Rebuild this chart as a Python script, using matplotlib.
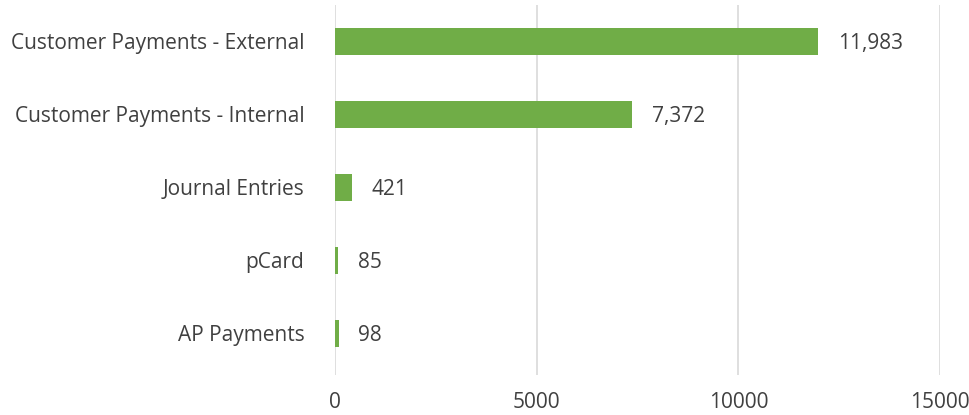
import matplotlib
matplotlib.use("Agg")
import matplotlib.pyplot as plt

plt.rcParams['font.family'] = ['Open Sans', 'DejaVu Sans']

# Données
categories = ["Customer Payments - External", "Customer Payments - Internal",
              "Journal Entries", "pCard", "AP Payments"]
values = [11983, 7372, 421, 85, 98]
xticks = [0, 5000, 10000, 15000]

green = "#70AD47"
text_col = "#404040"

fig = plt.figure(figsize=(9.7, 4.15), dpi=100)
ax = fig.add_axes([335 / 970, 40 / 415, 605 / 970, 370 / 415])

pos = list(range(len(categories)))
ax.barh(pos, values, height=0.36, color=green, zorder=3)

for p, v in zip(pos, values):
    ax.text(v + 480, p + 0.03, f"{v:,}", va="center", ha="left",
            fontsize=15, color=text_col)

ax.set_xlim(0, 15000)
ax.set_ylim(4.57, -0.5)
ax.set_xticks(xticks)
ax.set_xticklabels([str(t) for t in xticks], fontsize=15, color=text_col)
ax.set_yticks(pos)
ax.set_yticklabels(categories, fontsize=15, color=text_col)
ax.tick_params(axis="both", length=0)
ax.tick_params(axis="y", pad=22)
ax.tick_params(axis="x", pad=12)

ax.grid(axis="x", color="#D9D9D9", linewidth=1.2, zorder=0)
for s in ax.spines.values():
    s.set_visible(False)

fig.savefig("out.png", dpi=100)
